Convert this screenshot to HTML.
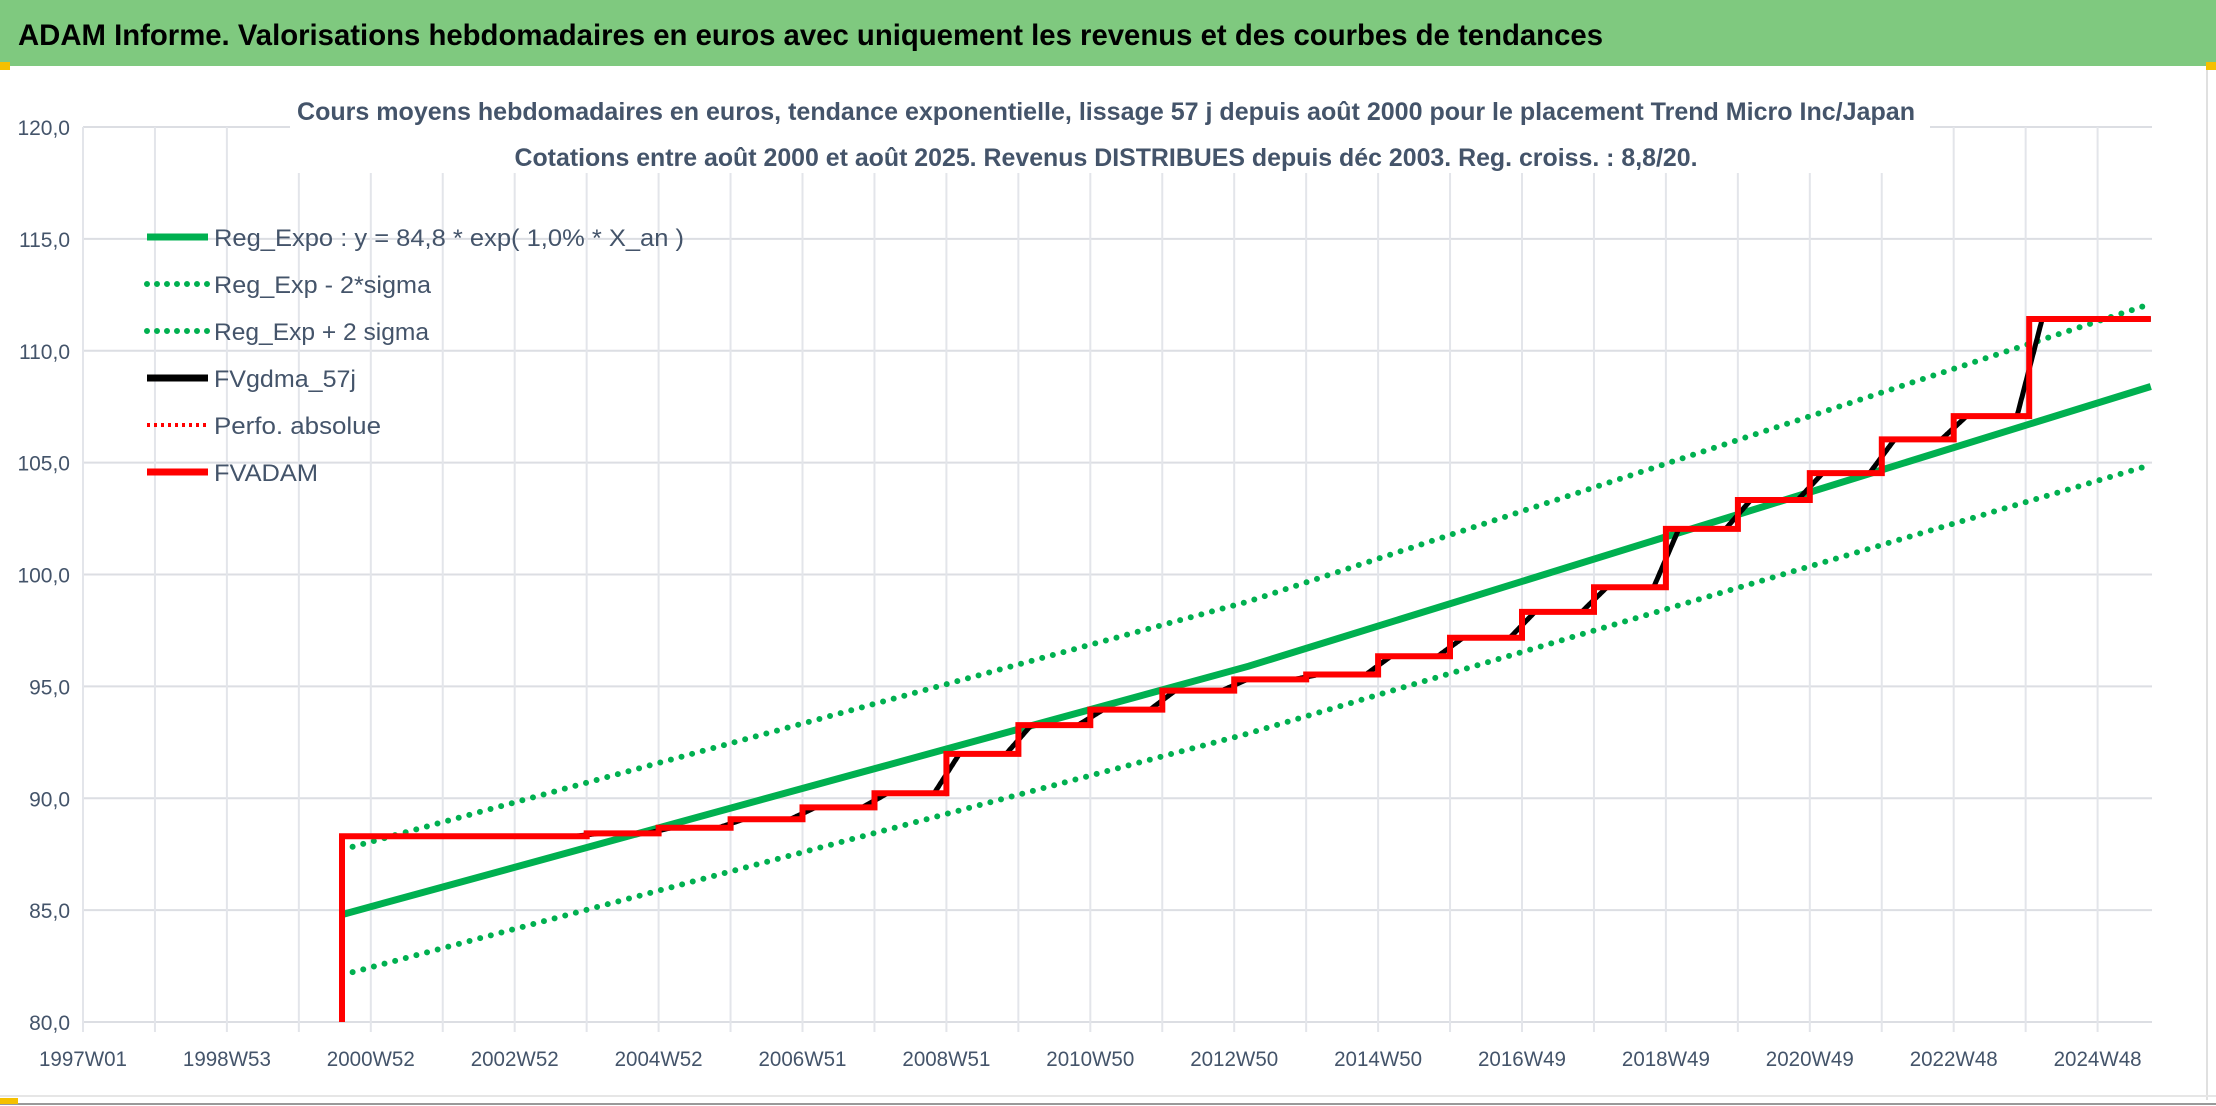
<!DOCTYPE html>
<html><head><meta charset="utf-8"><style>
html,body{margin:0;padding:0;width:2216px;height:1106px;overflow:hidden;background:#fff;font-family:"Liberation Sans",sans-serif}
</style></head><body>
<svg id="chart" width="2216" height="1106" viewBox="0 0 2216 1106" xmlns="http://www.w3.org/2000/svg">
<rect x="0" y="0" width="2216" height="1106" fill="#fff"/>
<rect x="0" y="0" width="2216" height="66" fill="#7fc97f"/>
<text x="18" y="45" font-size="30" font-weight="bold" fill="#000" textLength="1585" lengthAdjust="spacingAndGlyphs">ADAM Informe. Valorisations hebdomadaires en euros avec uniquement les revenus et des courbes de tendances</text>
<rect x="0" y="62" width="10" height="8" fill="#f5c000"/><rect x="2206" y="62" width="10" height="8" fill="#f5c000"/>
<line x1="2207" y1="70" x2="2207" y2="1100" stroke="#e0e0e0" stroke-width="2"/>
<line x1="0" y1="1096" x2="2216" y2="1096" stroke="#e6e6e6" stroke-width="2"/>
<line x1="0" y1="1104" x2="2216" y2="1104" stroke="#999" stroke-width="2"/>
<rect x="0" y="1098" width="18" height="6" fill="#f5c000"/>
<g id="grid"></g>
<rect x="290" y="88" width="1640" height="85" fill="#fff"/>
<text x="1106" y="120" text-anchor="middle" font-size="25" font-weight="bold" fill="#44546a" textLength="1618" lengthAdjust="spacingAndGlyphs">Cours moyens hebdomadaires en euros, tendance exponentielle, lissage 57 j depuis août 2000 pour le placement Trend Micro Inc/Japan</text>
<text x="1106" y="166" text-anchor="middle" font-size="25" font-weight="bold" fill="#44546a" textLength="1183" lengthAdjust="spacingAndGlyphs">Cotations entre août 2000 et août 2025. Revenus DISTRIBUES depuis déc 2003. Reg. croiss. : 8,8/20.</text>
<g id="axes"></g>
<g id="series"></g>
<g id="legend"></g>
</svg>
<script>
const yTicks=[80,85,90,95,100,105,110,115,120];
const xTickLabels=["1997W01","1998W53","2000W52","2002W52","2004W52","2006W51","2008W51","2010W50","2012W50","2014W50","2016W49","2018W49","2020W49","2022W48","2024W48"];
const trendYears=[2000.6,2013.2,2025.74];
const regExpo=[84.8,95.9,108.4];
const regMinus=[82.1,92.9,104.9];
const regPlus=[87.7,98.8,112.1];
const stepYears=[2000.6,2004.0,2005.0,2006.0,2007.0,2008.0,2009.0,2010.0,2011.0,2012.0,2013.0,2014.0,2015.0,2016.0,2017.0,2018.0,2019.0,2020.0,2021.0,2022.0,2023.0,2024.05];
const stepValues=[88.3,88.43,88.68,89.06,89.59,90.22,91.98,93.27,93.96,94.81,95.31,95.53,96.35,97.17,98.33,99.43,102.04,103.33,104.53,106.04,107.08,111.42];
const endYear=2025.74;
const NS="http://www.w3.org/2000/svg";
const X0=83,PX_YEAR=71.95,Y80=1022,PX_UNIT=(1022-127)/40,XR=2152;
const xs=y=>X0+(y-1997)*PX_YEAR;
const ys=v=>Y80-(v-80)*PX_UNIT;
function mk(tag,attrs,parent){const e=document.createElementNS(NS,tag);for(const k in attrs)e.setAttribute(k,attrs[k]);parent.appendChild(e);return e;}
const grid=document.getElementById('grid'),axes=document.getElementById('axes'),series=document.getElementById('series'),legend=document.getElementById('legend');
yTicks.forEach(v=>{
 const l=mk('line',{x1:X0,x2:XR,y1:ys(v),y2:ys(v),stroke:'#dcdee3','stroke-width':2},grid);
 
 
 const t=mk('text',{x:70,y:ys(v)+8,'text-anchor':'end','font-size':21,fill:'#44546a'},axes);
 
 
 t.textContent=v.toFixed(1).replace('.',',');
});
for(let k=0;k<=29;k++){
 const x=X0+k*PX_YEAR;if(x>XR+1)break;
 const l=mk('line',{x1:x,x2:x,y1:127,y2:1032,stroke:'#e3e5ea','stroke-width':2},grid);
 
 
}
xTickLabels.forEach((s,i)=>{
 const t=mk('text',{x:X0+i*2*PX_YEAR,y:1066,'text-anchor':'middle','font-size':21,fill:'#44546a',textLength:88,lengthAdjust:'spacingAndGlyphs'},axes);
 
 
 t.textContent=s;
});
function pts(yrs,vals){return yrs.map((y,i)=>xs(y).toFixed(1)+','+ys(vals[i]).toFixed(1)).join(' ');}
const dotted={fill:'none',stroke:'#00b050','stroke-width':6,'stroke-dasharray':'0 11','stroke-linecap':'round'};
let p=mk('polyline',Object.assign({points:pts(trendYears,regMinus)},dotted),series);


p=mk('polyline',Object.assign({points:pts(trendYears,regPlus)},dotted),series);


p=mk('polyline',{points:pts(trendYears,regExpo),fill:'none',stroke:'#00b050','stroke-width':7},series);


// step function value at year
function stepAt(y){let v=stepValues[0];for(let i=0;i<stepYears.length;i++){if(y>=stepYears[i])v=stepValues[i];}return v;}
// FVgdma: centered moving average of step series
const blk=[];const H=0.17;
for(let y=stepYears[0];y<=endYear;y+=0.01){
 let s=0,n=0;for(let d=-H;d<=H;d+=0.01){const yy=Math.min(Math.max(y+d,stepYears[0]),endYear);s+=stepAt(yy);n++;}
 blk.push(xs(y).toFixed(1)+','+ys(s/n).toFixed(1));
}
p=mk('polyline',{points:blk.join(' '),fill:'none',stroke:'#000','stroke-width':5},series);


const red=[xs(stepYears[0]).toFixed(1)+','+ys(80)];
stepValues.forEach((v,i)=>{const x0=xs(stepYears[i]);const x1=i+1<stepYears.length?xs(stepYears[i+1]):xs(endYear);red.push(x0.toFixed(1)+','+ys(v).toFixed(1));red.push(x1.toFixed(1)+','+ys(v).toFixed(1));});
p=mk('polyline',{points:red.join(' '),fill:'none',stroke:'#ff0000','stroke-width':6},series);


const legItems=[["Reg_Expo : y = 84,8 * exp( 1,0% *  X_an )",'#00b050','solid'],["Reg_Exp - 2*sigma",'#00b050','dot'],["Reg_Exp + 2 sigma",'#00b050','dot'],["FVgdma_57j",'#000','solid'],["Perfo. absolue",'#ff0000','dotsmall'],["FVADAM",'#ff0000','solid']];
legItems.forEach((it,i)=>{
 const y=237+i*47;
 const g=mk('g',{},legend);
 
 
 const a={x1:147,x2:208,y1:y,y2:y,stroke:it[1]};
 if(it[2]==='solid'){a['stroke-width']=7;}
 else if(it[2]==='dot'){a['stroke-width']=6;a['stroke-dasharray']='0 10';a['stroke-linecap']='round';}
 else {a['stroke-width']=4;a['stroke-dasharray']='3 4';}
 mk('line',a,g);
 const t=mk('text',{x:214,y:y+9,'font-size':24,fill:'#44546a'},g);
 t.textContent=it[0];
 const w=[470,217,215,142,167,104][i];
 t.setAttribute('textLength',w);t.setAttribute('lengthAdjust','spacingAndGlyphs');
});
</script>
</body></html>
